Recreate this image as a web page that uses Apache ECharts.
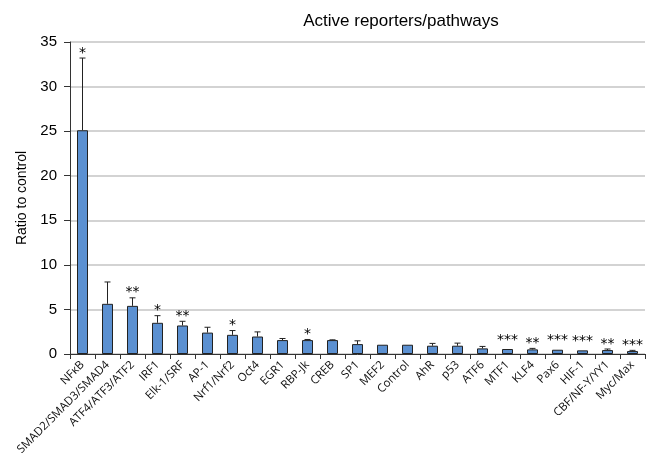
<!DOCTYPE html>
<html>
<head>
<meta charset="utf-8">
<script src="https://cdn.jsdelivr.net/npm/echarts@6/dist/echarts.min.js"></script>
<style>
  html, body { margin: 0; padding: 0; background: #fff; }
  #chart { width: 654px; height: 453px; }
</style>
</head>
<body>
<div id="chart"></div>
<script>
// 报告基因 / 通路
var categories = ['NFκB', 'SMAD2/SMAD3/SMAD4', 'ATF4/ATF3/ATF2', 'IRF1', 'Elk-1/SRF', 'AP-1', 'Nrf1/Nrf2',
  'Oct4', 'EGR1', 'RBP-Jk', 'CREB', 'SP1', 'MEF2', 'Control', 'AhR', 'p53', 'ATF6', 'MTF1', 'KLF4',
  'Pax6', 'HIF-1', 'CBF/NF-Y/YY1', 'Myc/Max'];
var ratios = [25.1, 5.63, 5.4, 3.5, 3.2, 2.4, 2.15, 1.96, 1.56, 1.56, 1.56, 1.11, 1.04, 1.04, 0.93, 0.93,
  0.63, 0.56, 0.52, 0.48, 0.41, 0.44, 0.33];
// 误差线（只画上半部分）
var errUp = [8.1, 2.45, 0.9, 0.8, 0.47, 0.6, 0.48, 0.52, 0.18, 0.07, 0.03, 0.37, 0, 0, 0.26, 0.29,
  0.22, 0, 0.11, 0, 0, 0.12, 0.08];
// 显著性标记
var stars = ['*', '', '**', '*', '**', '', '*', '', '', '*', '', '', '', '', '', '', '', '***', '**',
  '***', '***', '**', '***'];
var yTicks = [0, 5, 10, 15, 20, 25, 30, 35];

var chart = echarts.init(document.getElementById('chart'));

var errData = ratios.map(function (v, i) { return [i, v, errUp[i]]; });

var option = {
  backgroundColor: '#fff',
  animation: false,
  title: {
    text: 'Active reporters/pathways',
    left: 396,
    textAlign: 'center',
    top: 8,
    textStyle: { fontFamily: 'Liberation Sans', fontSize: 17, fontWeight: 'normal', color: '#000' }
  },
  grid: { left: 70, right: 9, top: 42, bottom: 99, containLabel: false, outerBoundsMode: 'none' },
  xAxis: {
    type: 'category',
    data: categories,
    axisLine: { lineStyle: { color: '#333', width: 1 } },
    axisTick: { show: true, length: 5, lineStyle: { color: '#333' } },
    axisLabel: {
      interval: 0,
      rotate: 45,
      margin: 9,
      fontFamily: 'Open Sans',
      fontSize: 11.5,
      color: '#111'
    }
  },
  yAxis: {
    type: 'value',
    min: yTicks[0],
    max: yTicks[yTicks.length - 1],
    interval: 5,
    name: 'Ratio to control',
    nameLocation: 'middle',
    nameGap: 37,
    nameTextStyle: { fontFamily: 'Liberation Sans', fontSize: 14, color: '#000' },
    axisLine: { show: true, lineStyle: { color: '#333', width: 1 } },
    axisTick: { show: true, inside: false, length: 6, lineStyle: { color: '#333' } },
    axisLabel: { fontFamily: 'Liberation Sans', fontSize: 15, color: '#000', margin: 13 },
    splitLine: { show: true, lineStyle: { color: '#c4c4c4', width: 1.5 } }
  },
  series: [
    {
      type: 'bar',
      data: ratios,
      barWidth: 11,
      itemStyle: { color: '#5b90d1', borderColor: '#222', borderWidth: 1 }
    },
    {
      type: 'custom',
      data: errData,
      z: 5,
      renderItem: function (params, api) {
        var i = api.value(0);
        var v = api.value(1);
        var e = api.value(2);
        var s = stars[params.dataIndex];
        var base = api.coord([i, v]);
        var top = api.coord([i, v + e]);
        var children = [];
        if (e > 0) {
          children.push({
            type: 'line',
            shape: { x1: base[0], y1: base[1], x2: top[0], y2: top[1] },
            style: { stroke: '#222', lineWidth: 1 }
          });
          children.push({
            type: 'line',
            shape: { x1: top[0] - 3, y1: top[1], x2: top[0] + 3, y2: top[1] },
            style: { stroke: '#222', lineWidth: 1 }
          });
        }
        if (s) {
          children.push({
            type: 'text',
            x: top[0],
            y: top[1] + (e > 0 ? 2 : -2),
            style: {
              text: s,
              fontFamily: 'DejaVu Sans',
              fontSize: 14,
              fill: '#000',
              align: 'center',
              verticalAlign: 'bottom'
            }
          });
        }
        return { type: 'group', children: children };
      }
    }
  ]
};

chart.setOption(option);
window.addEventListener('resize', function () {
  chart.resize();
});
</script>
</body>
</html>
